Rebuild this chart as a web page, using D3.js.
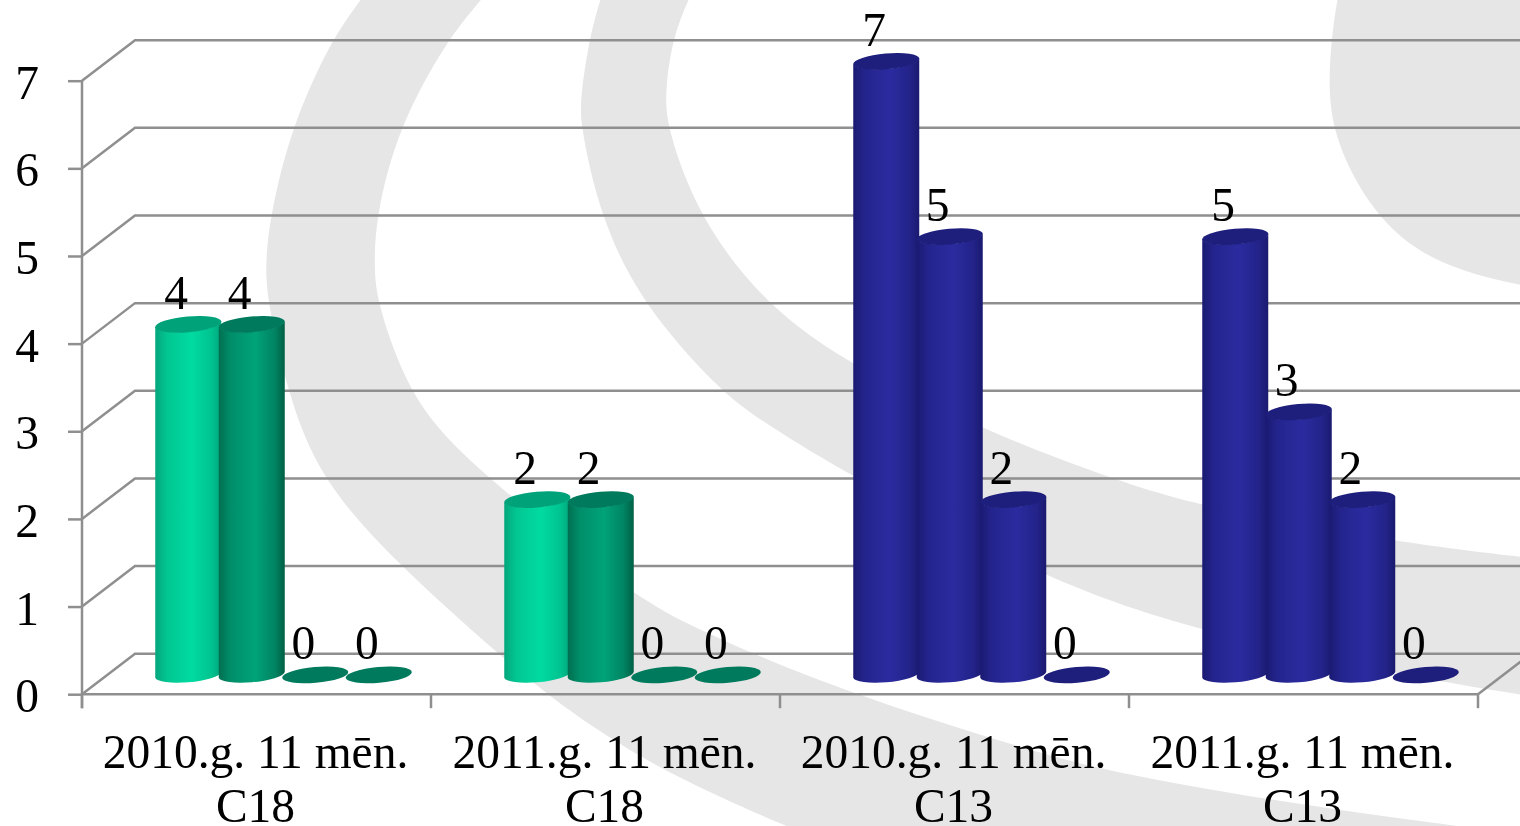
<!DOCTYPE html>
<html>
<head>
<meta charset="utf-8">
<script src="https://cdn.jsdelivr.net/npm/d3@7"></script>
<style>
  html, body { margin: 0; padding: 0; background: #fff; }
  svg { display: block; }
  text { font-family: "Liberation Serif", serif; fill: #000; }
</style>
</head>
<body>
<div id="chart"></div>
<script>
const categories = ["2010.g. 11 mēn.|C18", "2011.g. 11 mēn.|C18", "2010.g. 11 mēn.|C13", "2011.g. 11 mēn.|C13"];
const seriesNames = ["a", "b", "c", "d"];
const seriesA = [4, 2, 7, 5];
const seriesB = [4, 2, 5, 3];
const seriesC = [0, 0, 2, 2];
const seriesD = [0, 0, 0, 0];
const yTicks = [0, 1, 2, 3, 4, 5, 6, 7];

const width = 1520, height = 826;
const depthX = 53, depthY = 40.5;
const barLift = 19.3;

// grey swirl behind the plot, each shape is two edges running off the page
const swirls = [
  {
    a: [[385,-35],[361,0],[331,40],[291,128],[270,216],[265,267],[268,303],[287,391],[320,480],[400,567],[533,685],[600,732],[667,773],[783,826],[900,870]],
    b: [[510,-35],[481,0],[447,40],[398,128],[376,216],[374,267],[377,303],[408,391],[450,443],[503,490],[634,597],[700,630],[767,660],[853,693],[933,720],[1020,747],[1100,770],[1267,800],[1433,823],[1600,845]]
  },
  {
    a: [[612,-35],[600,0],[589,40],[580,100],[581,128],[600,216],[641,303],[720,391],[760,420],[852,477],[1047,580],[1200,633],[1477,690],[1600,705]],
    b: [[705,-35],[688,0],[672,40],[665,93],[667,128],[698,216],[763,303],[852,367],[1000,437],[1110,478],[1200,507],[1397,542],[1520,557],[1600,565]]
  },
  {
    a: [[1346,-35],[1336,0],[1327,80],[1334,140],[1372,213],[1428,262],[1520,287],[1600,295]],
    b: [[1600,-35]]
  }
];

const svg = d3.select("#chart").append("svg")
  .attr("width", width)
  .attr("height", height)
  .style("filter", "blur(0.4px)");

const defs = svg.append("defs");

const lineGen = d3.line().curve(d3.curveBasis);
svg.append("g").selectAll("path")
  .data(swirls)
  .join("path")
  .attr("d", d => {
    const back = d.b.length > 1 ? lineGen(d.b.slice().reverse()).replace("M", "L") : `L${d.b[0]}`;
    return lineGen(d.a) + back + "Z";
  })
  .attr("fill", "#e6e6e6");

const x0 = d3.scaleBand().domain(categories).range([82, 1478]);
const x1 = d3.scaleBand().domain(seriesNames).range([0, x0.bandwidth()]).paddingInner(0).paddingOuter(0.748);
const y = d3.scaleLinear().domain([0, 7]).range([694.2, 80.7]);

// side walls and gridlines
const grid = svg.append("g").attr("fill", "none").attr("stroke", "#8f8f8f").attr("stroke-width", 2.5);
yTicks.forEach(t => {
  grid.append("path").attr("d", `M82,${y(t)}L${82 + depthX},${y(t) - depthY}L${width},${y(t) - depthY}`);
});
grid.append("path").attr("d", `M1478,${y(0)}L${1478 + depthX},${y(0) - depthY}`);

const axisLeft = d3.axisLeft(y).tickValues(yTicks).tickSize(14).tickFormat("");
const gy = svg.append("g").attr("transform", "translate(82,0)").call(axisLeft);
gy.select(".domain").attr("stroke", "#8f8f8f").attr("stroke-width", 2.5).attr("d", `M0,${y(7)}V${y(0) + 14}`);
gy.selectAll(".tick line").attr("stroke", "#8f8f8f").attr("stroke-width", 2.5);

const axisBottom = d3.axisBottom(x0).tickSize(0).tickFormat("");
const gx = svg.append("g").attr("transform", `translate(0,${y(0)})`).call(axisBottom);
gx.select(".domain").attr("stroke", "#8f8f8f").attr("stroke-width", 2.5).attr("d", "M82,0H1478");
gx.append("g").selectAll("line")
  .data(categories.concat("end"))
  .join("line")
  .attr("x1", (d, i) => 82 + i * x0.step())
  .attr("x2", (d, i) => 82 + i * x0.step())
  .attr("y1", 0)
  .attr("y2", 14)
  .attr("stroke", "#8f8f8f")
  .attr("stroke-width", 2.5);

function label(sel, x, y, str) {
  sel.append("text")
    .attr("x", x)
    .attr("y", y)
    .attr("text-anchor", "middle")
    .style("font-size", "47.5px")
    .text(str);
}

const labels = svg.append("g");
yTicks.forEach(t => label(labels, 27, y(t) + 18, t));
categories.forEach(c => {
  const parts = c.split("|");
  label(labels, x0(c) + x0.bandwidth() / 2 - 1, 768, parts[0]);
  label(labels, x0(c) + x0.bandwidth() / 2 - 1, 822, parts[1]);
});

const palette = {
  green: [
    { side: ["#04a67c", "#00dba1", "#00a67c"], top: "#00a27a" },
    { side: ["#006f50", "#00a379", "#005f45"], top: "#007a5c" },
    { side: ["#006f50", "#00a379", "#005f45"], top: "#007a5c" },
    { side: ["#006f50", "#00a379", "#005f45"], top: "#007a5c" }
  ],
  blue: [0, 1, 2, 3].map(() => ({ side: ["#1a1a72", "#2b2ba0", "#1a1a70"], top: "#1e1e7c" }))
};

["green", "blue"].forEach(fam => {
  palette[fam].forEach((p, i) => {
    const g = defs.append("linearGradient").attr("id", `${fam}${i}`);
    const left = d3.interpolateRgb(p.side[0], p.side[1]);
    const right = d3.interpolateRgb(p.side[1], p.side[2]);
    g.append("stop").attr("offset", "0%").attr("stop-color", p.side[0]);
    g.append("stop").attr("offset", "18%").attr("stop-color", left(0.6));
    g.append("stop").attr("offset", "55%").attr("stop-color", p.side[1]);
    g.append("stop").attr("offset", "85%").attr("stop-color", right(0.45));
    g.append("stop").attr("offset", "100%").attr("stop-color", p.side[2]);
  });
});

const seriesValues = [seriesA, seriesB, seriesC, seriesD];
const chartData = [];
categories.forEach((c, ci) => {
  seriesNames.forEach((s, si) => {
    chartData.push({ cat: c, series: s, si, value: seriesValues[si][ci], fam: ci < 2 ? "green" : "blue" });
  });
});

const rx = 33.2, ry = 7.9, tilt = -5;
const edgeDx = 33, edgeDy = 2.8;

const bars = svg.append("g").selectAll("g")
  .data(chartData)
  .join("g")
  .attr("transform", d => `translate(${x0(d.cat) + x1(d.series) + x1.bandwidth() / 2 + depthX / 2 + 0.5},0)`);

bars.filter(d => d.value > 0).append("path")
  .attr("d", d => {
    const top = y(d.value) - barLift, base = y(0) - barLift;
    return `M${-edgeDx},${top + edgeDy}L${-edgeDx},${base + edgeDy}` +
      `A${rx},${ry} ${tilt} 0 0 ${edgeDx},${base - edgeDy}` +
      `L${edgeDx},${top - edgeDy}` +
      `A${rx},${ry} ${tilt} 0 1 ${-edgeDx},${top + edgeDy}Z`;
  })
  .attr("fill", d => `url(#${d.fam}${d.si})`);

bars.append("ellipse")
  .attr("rx", rx)
  .attr("ry", ry)
  .attr("transform", d => `translate(0,${y(d.value) - barLift}) rotate(${tilt})`)
  .attr("fill", d => palette[d.fam][d.si].top);

bars.each(function(d) {
  label(d3.select(this), -12, y(d.value) - 35, d.value);
});
</script>
</body>
</html>
